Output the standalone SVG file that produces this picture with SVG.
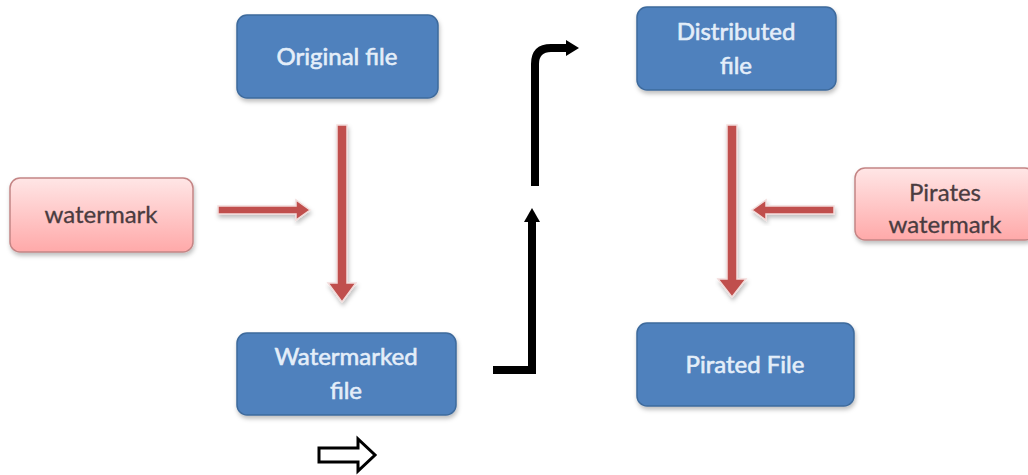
<svg xmlns="http://www.w3.org/2000/svg" width="1028" height="475" viewBox="0 0 1028 475">
<defs>
<linearGradient id="pink" x1="0" y1="0" x2="0" y2="1">
<stop offset="0" stop-color="#FFE6E6"/>
<stop offset="1" stop-color="#FFA9A9"/>
</linearGradient>
<filter id="sh" x="-10%" y="-10%" width="130%" height="140%">
<feDropShadow dx="1" dy="3" stdDeviation="2" flood-color="#000" flood-opacity="0.25"/>
</filter>
</defs>
<style>
.blue{fill:#4F81BD;stroke:#3E6A9C;stroke-width:1.5}
.pink{fill:url(#pink);stroke:#C48585;stroke-width:1.5}
.bt{font-family:Lato,"Open Sans",sans-serif;font-size:24px;fill:#E4EEF9;stroke:#E4EEF9;stroke-width:0.6;text-anchor:middle}
.pt{font-family:Lato,"Open Sans",sans-serif;font-size:24px;fill:#4A3C40;stroke:#4A3C40;stroke-width:0.3;text-anchor:middle}
.red{fill:#C0504D;stroke:#F2DCDB;stroke-width:1.5}
.blk{fill:none;stroke:#000;stroke-width:8}
</style>
<rect width="1028" height="475" fill="#fff"/>
<g id="original">
<rect class="blue" x="237" y="15" width="201" height="83" rx="10" filter="url(#sh)"/>
<text class="bt" x="337" y="65">Original file</text>
</g>
<g id="watermarked">
<rect class="blue" x="237" y="333" width="219" height="82" rx="10" filter="url(#sh)"/>
<text class="bt" x="346" y="365">Watermarked</text>
<text class="bt" x="346" y="399">file</text>
</g>
<g id="distributed">
<rect class="blue" x="637" y="7" width="199" height="83" rx="10" filter="url(#sh)"/>
<text class="bt" x="736" y="40">Distributed</text>
<text class="bt" x="736" y="74">file</text>
</g>
<g id="pirated">
<rect class="blue" x="637" y="323" width="217" height="83" rx="10" filter="url(#sh)"/>
<text class="bt" x="745" y="373">Pirated File</text>
</g>
<g id="watermark">
<rect class="pink" x="10" y="178" width="183" height="74" rx="10" filter="url(#sh)"/>
<text class="pt" x="101" y="223">watermark</text>
</g>
<g id="pirates-watermark">
<rect class="pink" x="855" y="168" width="180" height="72" rx="10" filter="url(#sh)"/>
<text class="pt" x="945" y="201">Pirates</text>
<text class="pt" x="945" y="233">watermark</text>
</g>
<g id="connectors">
<path class="red" d="M337,125 H347 V283 H356 L342,302 L328,283 H337 Z" filter="url(#sh)"/>
<path class="red" d="M218,206 H296 V200 L310,210 L296,220 V214 H218 Z" filter="url(#sh)"/>
<path class="red" d="M727,125 H737 V279 H746 L732,297 L718,279 H727 Z" filter="url(#sh)"/>
<path class="red" d="M834,206 H766 V200 L752,210 L766,220 V214 H834 Z" filter="url(#sh)"/>
<path class="blk" d="M493,370 H532 V220"/>
<path d="M524,222 L532,208 L540,222 Z" fill="#000"/>
<path class="blk" d="M535,186 V64 Q535,48 551,48 H568"/>
<path d="M566,40 L579,48 L566,56 Z" fill="#000"/>
<path d="M319,448 H358 V439 L375,455 L358,471 V462 H319 Z" fill="#fff" stroke="#000" stroke-width="3"/>
</g>
</svg>
